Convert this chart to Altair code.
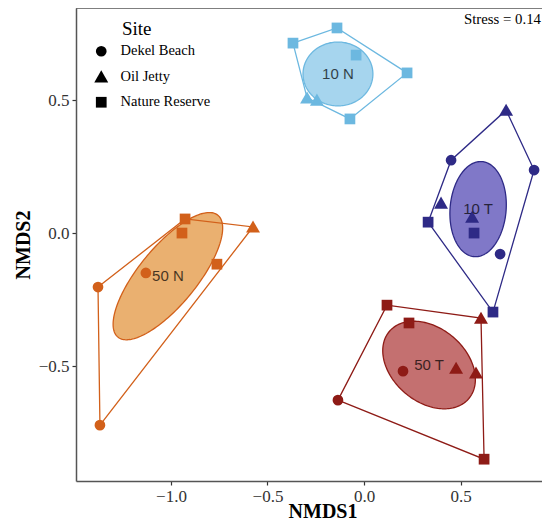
import altair as alt
import numpy as np
import pandas as pd

# ---------------- data ----------------
groups = ["10 N", "50 N", "10 T", "50 T"]
point_colors = ["#6CB8E0", "#D2601A", "#2E2A86", "#8E1B16"]
fill_colors = ["#A6D5EE", "#EAB070", "#8078C8", "#C47070"]
sites = ["Dekel Beach", "Oil Jetty", "Nature Reserve"]

pt_group = (["10 N"] * 7 + ["50 N"] * 7 + ["10 T"] * 9 + ["50 T"] * 8)
pt_site = [
    # 10 N
    "Nature Reserve", "Nature Reserve", "Nature Reserve", "Nature Reserve", "Nature Reserve",
    "Oil Jetty", "Oil Jetty",
    # 50 N
    "Nature Reserve", "Nature Reserve", "Nature Reserve", "Oil Jetty",
    "Dekel Beach", "Dekel Beach", "Dekel Beach",
    # 10 T
    "Oil Jetty", "Dekel Beach", "Dekel Beach", "Oil Jetty", "Oil Jetty",
    "Nature Reserve", "Nature Reserve", "Dekel Beach", "Nature Reserve",
    # 50 T
    "Nature Reserve", "Nature Reserve", "Oil Jetty", "Oil Jetty", "Oil Jetty",
    "Dekel Beach", "Dekel Beach", "Nature Reserve",
]
nmds1 = [
    -0.368, -0.140, -0.041, 0.223, -0.073, -0.295, -0.244,
    -0.927, -0.943, -0.762, -0.575, -1.130, -1.378, -1.368,
    0.736, 0.451, 0.881, 0.399, 0.560, 0.332, 0.570, 0.705, 0.668,
    0.119, 0.233, 0.606, 0.477, 0.580, 0.202, -0.135, 0.622,
]
nmds2 = [
    0.714, 0.771, 0.669, 0.602, 0.429, 0.508, 0.500,
    0.053, 0.000, -0.117, 0.023, -0.150, -0.203, -0.722,
    0.462, 0.274, 0.237, 0.113, 0.060, 0.041, 0.000, -0.079, -0.297,
    -0.271, -0.338, -0.320, -0.508, -0.526, -0.519, -0.628, -0.850,
]

# ellipses: centre and two semi-axis vectors (data units)
ell_cx = [-0.135, -1.016, 0.591, 0.337]
ell_cy = [0.598, -0.162, 0.090, -0.496]
ell_ax = [0.181, 0.259, 0.0207, 0.206]
ell_ay = [0.000, 0.229, 0.1786, -0.126]
ell_bx = [0.000, 0.116, 0.1446, -0.123]
ell_by = [0.120, -0.069, -0.0088, -0.106]

stress_label = "Stress = 0.14"
x_title = "NMDS1"
y_title = "NMDS2"

# ---------------- derived tables ----------------
pts = pd.DataFrame({"group": pt_group, "site": pt_site, "NMDS1": nmds1, "NMDS2": nmds2})


def hull(points):
    p = sorted(set(points))
    def cross(o, a, b):
        return (a[0] - o[0]) * (b[1] - o[1]) - (a[1] - o[1]) * (b[0] - o[0])
    lower, upper = [], []
    for q in p:
        while len(lower) >= 2 and cross(lower[-2], lower[-1], q) <= 0:
            lower.pop()
        lower.append(q)
    for q in reversed(p):
        while len(upper) >= 2 and cross(upper[-2], upper[-1], q) <= 0:
            upper.pop()
        upper.append(q)
    return lower[:-1] + upper[:-1]


hull_rows = []
for g in groups:
    sub = pts[pts.group == g]
    h = hull(list(zip(sub.NMDS1, sub.NMDS2)))
    h = h + [h[0]]
    for i, (a, b) in enumerate(h):
        hull_rows.append({"group": g, "NMDS1": a, "NMDS2": b, "ord": i})
hull_df = pd.DataFrame(hull_rows)

outline_rows, area_rows, lab_rows = [], [], []
for g, cx, cy, ax, ay, bx, by in zip(groups, ell_cx, ell_cy, ell_ax, ell_ay, ell_bx, ell_by):
    t = np.linspace(0, 2 * np.pi, 181)
    for i, tt in enumerate(t):
        outline_rows.append({"group": g, "ord": i,
                             "NMDS1": cx + ax * np.cos(tt) + bx * np.sin(tt),
                             "NMDS2": cy + ay * np.cos(tt) + by * np.sin(tt)})
    R = np.hypot(ax, bx)
    phi = np.arctan2(bx, ax)
    for s in np.linspace(0, np.pi, 121):
        t1, t2 = phi + s, phi - s
        area_rows.append({"group": g,
                          "NMDS1": cx + R * np.cos(s),
                          "NMDS2": cy + ay * np.cos(t1) + by * np.sin(t1),
                          "NMDS2b": cy + ay * np.cos(t2) + by * np.sin(t2)})
    lab_rows.append({"group": g, "NMDS1": cx, "NMDS2": cy})
outline_df = pd.DataFrame(outline_rows)
area_df = pd.DataFrame(area_rows)
lab_df = pd.DataFrame(lab_rows)

# ---------------- chart ----------------
W, H = 466, 473
SERIF = "Liberation Serif"

xscale = alt.Scale(domain=[-1.492, 0.922], nice=False, zero=False)
yscale = alt.Scale(domain=[-0.932, 0.846], nice=False, zero=False)
xenc = alt.X("NMDS1:Q", scale=xscale,
             axis=alt.Axis(values=[-1.0, -0.5, 0.0, 0.5], format=".1f", title=None,
                           labelPadding=3, labelFontSize=17))
yenc = alt.Y("NMDS2:Q", scale=yscale,
             axis=alt.Axis(values=[-0.5, 0.0, 0.5], format=".1f", title=y_title))

stroke_scale = alt.Scale(domain=groups, range=point_colors)
fill_scale = alt.Scale(domain=groups, range=fill_colors)

ell_fill = alt.Chart(area_df).mark_area(opacity=1).encode(
    x=xenc, y=yenc, y2="NMDS2b:Q",
    fill=alt.Fill("group:N", scale=fill_scale, legend=None),
    detail="group:N",
)
ell_line = alt.Chart(outline_df).mark_line(strokeWidth=1.3).encode(
    x=xenc, y=yenc, order="ord:Q",
    stroke=alt.Stroke("group:N", scale=stroke_scale, legend=None),
)
hull_line = alt.Chart(hull_df).mark_line(strokeWidth=1.3).encode(
    x=xenc, y=yenc, order="ord:Q",
    stroke=alt.Stroke("group:N", scale=stroke_scale, legend=None),
)

tri = "M0,-1.2L1.3,1.05L-1.3,1.05Z"
points = alt.Chart(pts).mark_point(filled=True, size=115, opacity=1).encode(
    x=xenc, y=yenc,
    color=alt.Color("group:N", scale=stroke_scale, legend=None),
    shape=alt.Shape("site:N", scale=alt.Scale(domain=sites, range=["circle", tri, "square"]),
                    legend=alt.Legend(orient="none", legendX=18, legendY=36, title=None,
                                      labelFont=SERIF, labelFontSize=14.5, labelColor="black",
                                      symbolFillColor="black", symbolStrokeColor="black",
                                      symbolStrokeWidth=0, symbolSize=115, symbolOpacity=1,
                                      rowPadding=10.5, labelOffset=12, padding=0)),
)

labels = alt.Chart(lab_df).mark_text(font="Liberation Sans", fontSize=15, color="black",
                                     opacity=0.7).encode(x=xenc, y=yenc, text="group:N")

site_title = alt.Chart(pd.DataFrame({"t": ["Site"]})).mark_text(
    font=SERIF, fontSize=19, align="left", baseline="middle", color="black"
).encode(x=alt.value(46), y=alt.value(21), text="t:N")

stress = alt.Chart(pd.DataFrame({"t": [stress_label]})).mark_text(
    font=SERIF, fontSize=14.8, align="right", baseline="middle", color="black"
).encode(x=alt.value(W - 1), y=alt.value(12), text="t:N")

xtitle = alt.Chart(pd.DataFrame({"t": [x_title]})).mark_text(
    font=SERIF, fontSize=20, fontWeight="bold", align="center", baseline="alphabetic", color="black"
).encode(x=alt.value(247), y=alt.value(H + 37), text="t:N")

top_border = alt.Chart(pd.DataFrame({"a": [0]})).mark_rule(color="#555555", strokeWidth=1.5).encode(
    x=alt.value(0), x2=alt.value(W), y=alt.value(0)
)

chart = alt.layer(
    ell_fill, ell_line, hull_line, points, labels, site_title, stress, xtitle, top_border
).properties(
    width=W, height=H,
    autosize=alt.AutoSizeParams(type="none"),
    padding={"left": 68, "top": 0, "right": 0, "bottom": 43},
).configure_view(stroke=None).configure_axis(
    grid=False,
    domainColor="#555555", domainWidth=1.5,
    tickColor="#333333", tickSize=4, tickWidth=1.2,
    labelFont=SERIF, labelFontSize=17, labelColor="#333333", labelPadding=3,
    titleFont=SERIF, titleFontSize=20, titleFontWeight="bold", titleColor="black",
).configure_axisY(titlePadding=5)

chart.save("out.html", embed_options={"renderer": "svg", "actions": False})
